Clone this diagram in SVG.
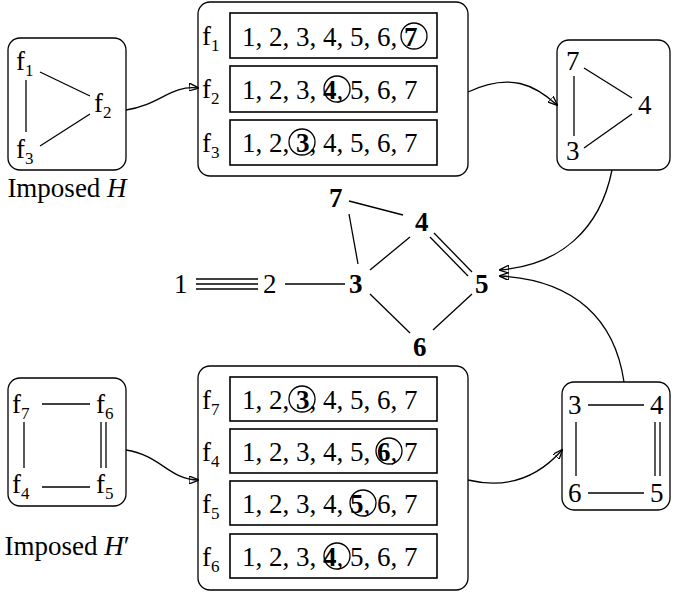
<svg xmlns="http://www.w3.org/2000/svg" width="685" height="596" viewBox="0 0 685 596">
<style>
text{font-family:"Liberation Serif",serif;font-size:27px;fill:#000}
.b{font-weight:bold}
.s{font-size:17px}
.box{fill:none;stroke:#000;stroke-width:1.3}
.in{fill:none;stroke:#000;stroke-width:1.6}
line,path{stroke:#000;stroke-width:1.3;fill:none}
circle{fill:none;stroke:#000;stroke-width:1.3}
</style>
<defs><marker id="a" markerWidth="10" markerHeight="8" refX="9" refY="4" orient="auto" markerUnits="userSpaceOnUse"><path d="M0,0L10,4L0,8z" fill="#000" stroke="none"/></marker></defs>
<g id="H">
<rect class="box" x="8" y="38" width="118" height="132" rx="12"/>
<text x="16" y="70">f<tspan class="s" dy="6">1</tspan></text>
<text x="94" y="112">f<tspan class="s" dy="6">2</tspan></text>
<text x="16" y="158">f<tspan class="s" dy="6">3</tspan></text>
<line x1="26" y1="80" x2="26" y2="132"/><line x1="40" y1="72" x2="90" y2="96"/><line x1="40" y1="146" x2="90" y2="114"/>
<text x="67" y="197" text-anchor="middle">Imposed <tspan font-style="italic">H</tspan></text>
</g>
<g id="list1">
<rect class="box" x="198" y="2" width="270" height="174" rx="12"/>
<text x="202" y="45">f<tspan class="s" dy="6">1</tspan></text>
<text x="202" y="98">f<tspan class="s" dy="6">2</tspan></text>
<text x="202" y="152">f<tspan class="s" dy="6">3</tspan></text>
<rect class="in" x="230" y="13" width="207" height="45"/><rect class="in" x="230" y="66" width="207" height="46"/><rect class="in" x="230" y="120" width="207" height="45"/>
<text x="242" y="46">1, 2, 3, 4, 5, 6, <tspan class="b">7</tspan></text><circle cx="414" cy="36" r="13"/>
<text x="242" y="99">1, 2, 3, <tspan class="b">4</tspan>, 5, 6, 7</text><circle cx="337" cy="89" r="13"/>
<text x="242" y="152">1, 2, <tspan class="b">3</tspan>, 4, 5, 6, 7</text><circle cx="302" cy="142" r="13"/>
</g>
<g id="T">
<rect class="box" x="557" y="40" width="113" height="130" rx="12"/>
<text x="566" y="70">7</text><text x="638" y="114">4</text><text x="566" y="160">3</text>
<line x1="574" y1="76" x2="574" y2="136"/><line x1="584" y1="68" x2="632" y2="98"/><line x1="584" y1="148" x2="632" y2="114"/>
</g>
<g id="G">
<text x="174" y="293">1</text><text x="263" y="293">2</text>
<text class="b" x="349" y="293">3</text><text class="b" x="329" y="207">7</text><text class="b" x="415" y="231">4</text><text class="b" x="475" y="293">5</text><text class="b" x="413" y="356">6</text>
<line x1="196" y1="279" x2="258" y2="279"/><line x1="196" y1="284" x2="258" y2="284"/><line x1="196" y1="289" x2="258" y2="289"/>
<line x1="285" y1="284" x2="345" y2="284"/>
<line x1="349" y1="214" x2="358" y2="264"/><line x1="349" y1="201" x2="403" y2="215"/>
<line x1="370" y1="270" x2="410" y2="237"/><line x1="370" y1="294" x2="410" y2="333"/>
<line x1="433" y1="330" x2="472" y2="294"/>
<line x1="434" y1="233" x2="472" y2="272"/><line x1="430" y1="237" x2="468" y2="276"/>
</g>
<g id="Hp">
<rect class="box" x="8" y="378" width="118" height="128" rx="12"/>
<text x="12" y="413">f<tspan class="s" dy="6">7</tspan></text><text x="96" y="413">f<tspan class="s" dy="6">6</tspan></text>
<text x="12" y="493">f<tspan class="s" dy="6">4</tspan></text><text x="96" y="493">f<tspan class="s" dy="6">5</tspan></text>
<line x1="42" y1="404" x2="90" y2="404"/><line x1="42" y1="487" x2="90" y2="487"/>
<line x1="24" y1="422" x2="24" y2="468"/><line x1="101" y1="422" x2="101" y2="468"/><line x1="106" y1="422" x2="106" y2="468"/>
<text x="67" y="555" text-anchor="middle">Imposed <tspan font-style="italic">H</tspan>′</text>
</g>
<g id="list2">
<rect class="box" x="198" y="366" width="270" height="224" rx="12"/>
<text x="202" y="409">f<tspan class="s" dy="6">7</tspan></text><text x="202" y="461">f<tspan class="s" dy="6">4</tspan></text>
<text x="202" y="513">f<tspan class="s" dy="6">5</tspan></text><text x="202" y="566">f<tspan class="s" dy="6">6</tspan></text>
<rect class="in" x="230" y="377" width="207" height="44"/><rect class="in" x="230" y="429" width="207" height="44"/>
<rect class="in" x="230" y="481" width="207" height="44"/><rect class="in" x="230" y="534" width="207" height="44"/>
<text x="242" y="409">1, 2, <tspan class="b">3</tspan>, 4, 5, 6, 7</text><circle cx="302" cy="399" r="13"/>
<text x="242" y="461">1, 2, 3, 4, 5, <tspan class="b">6</tspan>, 7</text><circle cx="389" cy="451" r="13"/>
<text x="242" y="513">1, 2, 3, 4, <tspan class="b">5</tspan>, 6, 7</text><circle cx="363" cy="503" r="13"/>
<text x="242" y="566">1, 2, 3, <tspan class="b">4</tspan>, 5, 6, 7</text><circle cx="337" cy="556" r="13"/>
</g>
<g id="Q">
<rect class="box" x="562" y="382" width="108" height="128" rx="12"/>
<text x="568" y="414">3</text><text x="650" y="414">4</text><text x="568" y="502">6</text><text x="650" y="502">5</text>
<line x1="588" y1="405" x2="644" y2="405"/><line x1="588" y1="493" x2="644" y2="493"/>
<line x1="576" y1="422" x2="576" y2="476"/><line x1="655" y1="422" x2="655" y2="476"/><line x1="660" y1="422" x2="660" y2="476"/>
</g>
<g id="connectors">
<path d="M126,110 C160,105 170,85 198,88" marker-end="url(#a)"/>
<path d="M468,92 C510,72 535,85 557,105" marker-end="url(#a)"/>
<path d="M612,170 C600,230 560,265 500,270" marker-end="url(#a)"/>
<path d="M624,382 C615,320 575,280 500,276" marker-end="url(#a)"/>
<path d="M126,450 C160,455 170,480 198,480" marker-end="url(#a)"/>
<path d="M468,480 C510,490 540,475 562,450" marker-end="url(#a)"/>
</g>
</svg>
